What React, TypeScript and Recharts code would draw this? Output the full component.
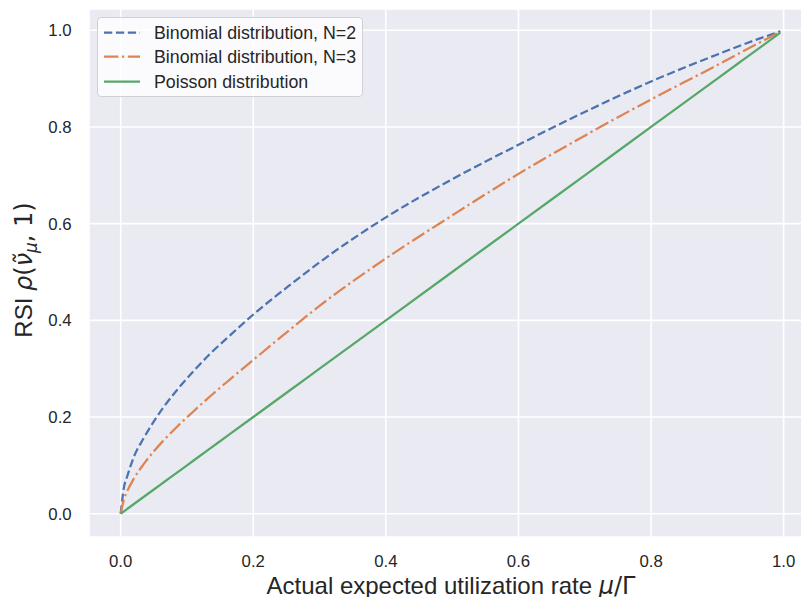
import React from 'react';
import { LineChart, Line, XAxis, YAxis, CartesianGrid, Legend } from 'recharts';

const xValues = [0, 0.005, 0.01, 0.02, 0.035, 0.05, 0.065, 0.085, 0.11, 0.135, 0.165, 0.2, 0.26, 0.3, 0.4, 0.5, 0.6, 0.7, 0.8, 0.9, 0.934, 0.995];
const binomialN2 = [0, 0.055, 0.078, 0.118, 0.157, 0.191, 0.221, 0.256, 0.295, 0.331, 0.369, 0.412, 0.478, 0.52, 0.613, 0.692, 0.763, 0.831, 0.894, 0.95, 0.968, 0.998];
const binomialN3 = [0, 0.03, 0.047, 0.073, 0.103, 0.129, 0.152, 0.18, 0.212, 0.243, 0.278, 0.318, 0.386, 0.43, 0.528, 0.617, 0.703, 0.782, 0.857, 0.928, 0.953, 0.997];
const poisson = [0, 0.005, 0.01, 0.02, 0.035, 0.05, 0.065, 0.085, 0.11, 0.135, 0.165, 0.2, 0.26, 0.3, 0.4, 0.5, 0.6, 0.7, 0.8, 0.9, 0.934, 0.995];

const xTicks = [0, 0.2, 0.4, 0.6, 0.8, 1.0];
const yTicks = [0, 0.2, 0.4, 0.6, 0.8, 1.0];

const seriesNames = ['Binomial distribution, N=2', 'Binomial distribution, N=3', 'Poisson distribution'];
const seriesKeys = ['n2', 'n3', 'poisson'];
const seriesColors = ['#4C72B0', '#DD8452', '#55A868'];
const seriesDash = ['8.3 3.6', '14.4 3.6 2.25 3.6', undefined];

const data = xValues.map((x, i) => ({ x, n2: binomialN2[i], n3: binomialN3[i], poisson: poisson[i] }));

const LW = 2.25;
const TEXT = '#262626';
const SANS = 'Liberation Sans, Arial, sans-serif';
const MATH = 'DejaVu Sans, sans-serif';

const XLabel = () => (
  <text x={451} y={593.5} textAnchor="middle" fontSize={24} fill={TEXT} fontFamily={SANS}>
    Actual expected utilization rate{' '}
    <tspan fontFamily={MATH} fontStyle="italic">μ</tspan>
    <tspan fontFamily={MATH}>/Γ</tspan>
  </text>
);

const YLabel = () => (
  <text transform="translate(32,270) rotate(-90)" x={0} y={0} textAnchor="middle" fontSize={24} fill={TEXT} fontFamily={SANS}>
    RSI{' '}
    <tspan fontFamily={MATH} fontStyle="italic">ρ</tspan>
    <tspan fontFamily={MATH}>(</tspan>
    <tspan fontFamily={MATH} fontStyle="italic">ν̃</tspan>
    <tspan fontFamily={MATH} fontStyle="italic" fontSize={16.8} dy={5}>μ</tspan>
    <tspan fontFamily={MATH} dy={-5}>, 1)</tspan>
  </text>
);

const LegendBox = () => (
  <div
    style={{
      width: 266,
      height: 80,
      background: 'rgba(255,255,255,0.8)',
      border: '1px solid #D0D0D4',
      borderRadius: 4,
      position: 'relative',
      boxSizing: 'border-box',
    }}
  >
    {seriesNames.map((name, i) => (
      <div key={name} style={{ position: 'absolute', left: 0, top: 2 + i * 24.7, height: 24, width: 266 }}>
        <svg width={40} height={24} style={{ position: 'absolute', left: 5, top: 0 }}>
          <line
            x1={1}
            y1={12.5}
            x2={37}
            y2={12.5}
            stroke={seriesColors[i]}
            strokeWidth={LW}
            strokeDasharray={seriesDash[i]}
            strokeLinecap="butt"
          />
        </svg>
        <span
          style={{
            position: 'absolute',
            left: 56.5,
            top: 1,
            fontSize: 17.8,
            lineHeight: '24px',
            fontFamily: SANS,
            color: TEXT,
            whiteSpace: 'nowrap',
          }}
        >
          {name}
        </span>
      </div>
    ))}
  </div>
);

export default function App() {
  return (
    <div style={{ position: 'absolute', left: 0, top: 0, width: 801, height: 597, overflow: 'hidden', background: '#fff' }}>
      <LineChart width={830} height={597} data={data} margin={{ top: 9, right: 16.5, left: 0, bottom: 0 }}>
        <CartesianGrid stroke="#FFFFFF" strokeWidth={1.6} fill="#EAEAF2" fillOpacity={1} />
        <XAxis
          type="number"
          dataKey="x"
          domain={[-0.0478, 1.045]}
          ticks={xTicks}
          tickFormatter={(v: number) => v.toFixed(1)}
          axisLine={false}
          tickLine={false}
          tickSize={0}
          tickMargin={18}
          height={60}
          interval={0}
          allowDataOverflow
          tick={{ fontSize: 16.8, fill: TEXT, fontFamily: SANS }}
          label={<XLabel />}
        />
        <YAxis
          type="number"
          domain={[-0.0482, 1.044]}
          ticks={yTicks}
          tickFormatter={(v: number) => v.toFixed(1)}
          axisLine={false}
          tickLine={false}
          tickSize={0}
          tickMargin={17.3}
          width={89}
          interval={0}
          allowDataOverflow
          tick={{ fontSize: 16.8, fill: TEXT, fontFamily: SANS }}
          label={<YLabel />}
        />
        {seriesKeys.map((k, i) => (
          <Line
            key={k}
            type="monotone"
            dataKey={k}
            name={seriesNames[i]}
            stroke={seriesColors[i]}
            strokeWidth={LW}
            strokeDasharray={seriesDash[i]}
            strokeLinecap="butt"
            dot={false}
            activeDot={false}
            isAnimationActive={false}
          />
        ))}
        <Legend
          layout="horizontal"
          verticalAlign="middle"
          align="center"
          content={<LegendBox />}
          wrapperStyle={{ left: 96.5, top: 16.7, width: 268, height: 82 }}
        />
      </LineChart>
    </div>
  );
}
